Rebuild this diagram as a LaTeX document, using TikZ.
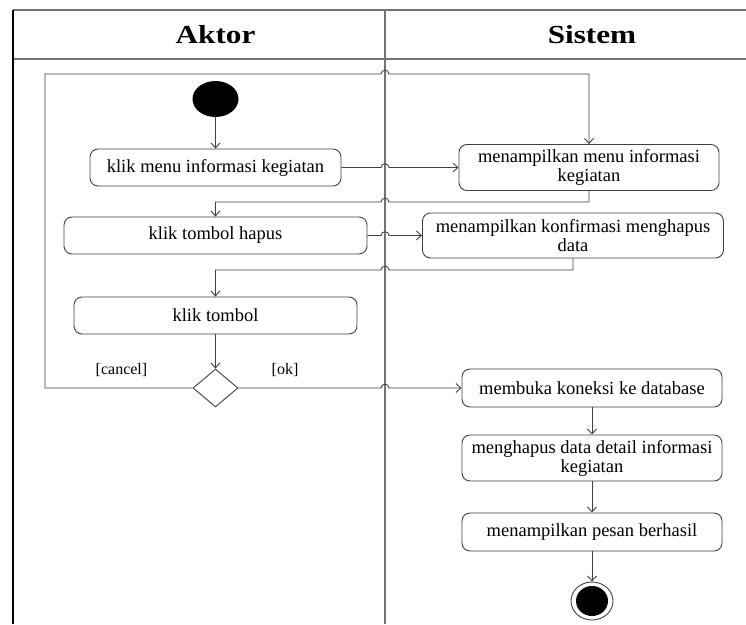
\documentclass[tikz,border=0pt]{standalone}
\usepackage{fontspec}
\setmainfont{Liberation Serif}
\usetikzlibrary{shapes.geometric,arrows.meta}
\begin{document}
\begin{tikzpicture}[x=1pt,y=-1pt,
  act/.style={draw=black!75, line width=0.9pt, rounded corners=8pt, inner sep=0pt,
    font=\fontsize{18.5}{19}\selectfont, align=center},
  flow/.style={draw=black!75, line width=0.9pt},
  arr/.style={flow, -{Straight Barb[length=5pt,width=9pt]}},
  lane/.style={draw=black!55, line width=1.4pt},
  hdr/.style={font=\fontsize{26}{28}\bfseries\selectfont, anchor=base, inner sep=0pt},
  guard/.style={font=\fontsize{16}{18}\selectfont, inner sep=0pt}
]
\useasboundingbox (0,0) rectangle (746,624);
% swimlane frame
\draw[lane] (13,10) -- (746,10);
\draw[lane] (13,59) -- (746,59);
\draw[draw=black, line width=1.2pt] (13,10) -- (13,624);
\draw[draw=black!55, line width=2pt] (385,10) -- (385,624);
\node[hdr] (hA) at (215.5,43) {\scalebox{1.2}[1]{Aktor}};
\node[hdr] (hS) at (592,43) {\scalebox{1.2}[1]{Sistem}};
% nodes
\node[ellipse, fill=black, minimum width=46pt, minimum height=36pt, inner sep=0pt] (start) at (215.5,99) {};
\node[act, minimum width=251pt, minimum height=37pt] (a1) at (215.5,167.5) {klik menu informasi kegiatan};
\node[act, minimum width=260pt, minimum height=46pt] (s1) at (589,167.5) {menampilkan menu informasi\\kegiatan};
\node[act, minimum width=303pt, minimum height=37pt] (a2) at (215.5,235.5) {klik tombol hapus};
\node[act, minimum width=301pt, minimum height=45pt] (s2) at (573,235.5) {menampilkan konfirmasi menghapus\\data};
\node[act, minimum width=283pt, minimum height=37pt] (a3) at (215.5,315.5) {klik tombol};
\node[diamond, draw=black!75, line width=0.9pt, minimum width=45pt, minimum height=38pt, inner sep=0pt] (dec) at (215.5,388) {};
\node[act, minimum width=260pt, minimum height=38pt] (s3) at (592,388) {membuka koneksi ke database};
\node[act, minimum width=260pt, minimum height=46pt] (s4) at (592,458) {menghapus data detail informasi\\kegiatan};
\node[act, minimum width=260pt, minimum height=38pt] (s5) at (592,532) {menampilkan pesan berhasil};
\node[ellipse, draw=black!75, line width=0.9pt, minimum width=42pt, minimum height=38pt, inner sep=0pt] (end) at (592,601) {};
\node[ellipse, fill=black, minimum width=32pt, minimum height=30pt, inner sep=0pt] (endin) at (end.center) {};
\node[guard] (gc) at (121.5,370) {[cancel]};
\node[guard] (go) at (285,370) {[ok]};
% connectors
\draw[arr] (start) -- (a1);
\draw[arr] (a1.east) -- (381,167.5) .. controls (381,162.5) and (389,162.5) .. (389,167.5) -- (s1.west);
\draw[arr] (s1.south) -- (589,202) -- (389,202) .. controls (389,197) and (381,197) .. (381,202) -- (215.5,202) -- (a2.north);
\draw[arr] (a2.east) -- (381,235.5) .. controls (381,230.5) and (389,230.5) .. (389,235.5) -- (s2.west);
\draw[arr] (s2.south) -- (573,270) -- (389,270) .. controls (389,265) and (381,265) .. (381,270) -- (215.5,270) -- (a3.north);
\draw[arr] (a3) -- (dec);
\draw[arr] (dec.east) -- (381,388) .. controls (381,383) and (389,383) .. (389,388) -- (s3.west);
\draw[arr] (dec.west) -- (45,388) -- (45,74) -- (381,74) .. controls (381,69) and (389,69) .. (389,74) -- (589,74) -- (s1.north);
\draw[arr] (s3) -- (s4);
\draw[arr] (s4) -- (s5);
\draw[arr] (s5) -- (end);
\end{tikzpicture}
\end{document}
